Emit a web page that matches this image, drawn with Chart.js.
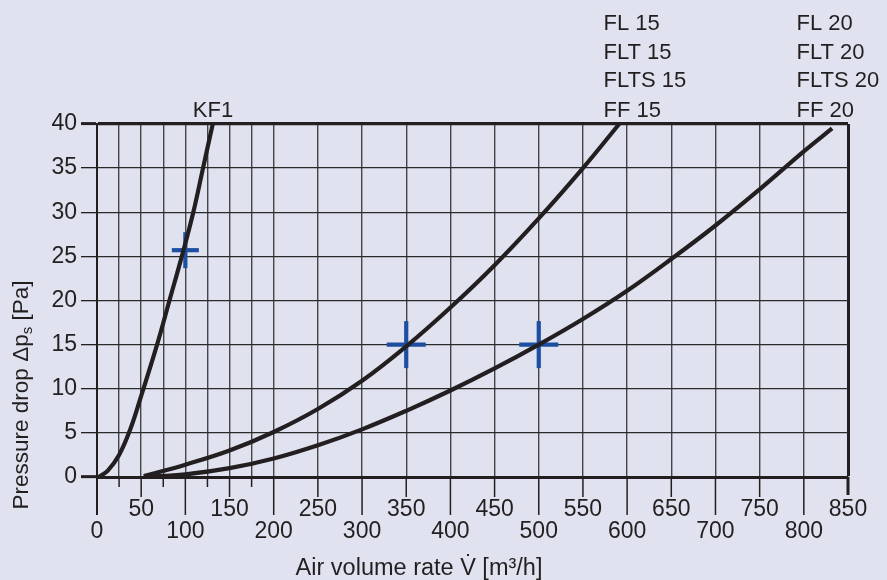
<!DOCTYPE html>
<html><head><meta charset="utf-8">
<script src="https://cdn.jsdelivr.net/npm/chart.js@4.4.1/dist/chart.umd.min.js"></script>
<style>html,body{margin:0;padding:0;background:#e0e2f0;overflow:hidden}#wrap{width:887px;height:580px}</style>
</head><body><div id="wrap"><canvas id="c" width="887" height="580"></canvas></div>
<script>
// ---- data ----
const kf1Flow  = [2, 12, 25, 38, 50, 68, 82, 96, 109, 120, 131];
const kf1Drop  = [0, 0.7, 2.5, 5.5, 9.2, 15, 20, 25, 30, 35, 40];
const fl15Flow = [53, 100, 150, 200, 250, 300, 350, 400, 450, 500, 550, 591];
const fl15Drop = [0.1, 1.4, 3.0, 5.1, 7.7, 10.9, 14.8, 19.2, 24.0, 29.3, 35.0, 40];
const fl20Flow = [53, 100, 150, 200, 250, 300, 350, 400, 450, 500, 550, 600, 650, 700, 750, 800, 832];
const fl20Drop = [0, 0.3, 1.0, 2.1, 3.6, 5.4, 7.5, 9.8, 12.3, 15.0, 17.9, 21.1, 24.7, 28.5, 32.6, 36.9, 39.5];
const markFlow = [100, 350, 500];
const markDrop = [25.7, 15, 15];
const xTickValues = [0, 25, 50, 75, 100, 125, 150, 175, 200, 250, 300, 350, 400, 450, 500, 550, 600, 650, 700, 750, 800, 850];
const xLabelValues = [0, 50, 100, 150, 200, 250, 300, 350, 400, 450, 500, 550, 600, 650, 700, 750, 800, 850];
const yTickValues = [0, 5, 10, 15, 20, 25, 30, 35, 40];
const kf1Label = 'KF1';
const fl15Labels = ['FL 15', 'FLT 15', 'FLTS 15', 'FF 15'];
const fl20Labels = ['FL 20', 'FLT 20', 'FLTS 20', 'FF 20'];
const xTitle = 'Air volume rate V\u0307 [m\u00b3/h]';
const yTitleParts = ['Pressure drop \u0394p', 's', ' [Pa]'];

// ---- styles ----
const INK = '#231f20';
const BLUE = '#1c4ea1';
const BG = '#e0e2f0';
const FONT = '"Liberation Sans", Arial, Helvetica, sans-serif';
const markHalfW = [13.5, 19.5, 19.5];
const markHalfH = [18, 23.5, 23.5];

const toXY = (xs, ys) => xs.map((v, i) => ({x: v, y: ys[i]}));

const curve = (data) => ({
  type: 'line', data, borderColor: INK, borderWidth: 4.2, pointRadius: 0,
  tension: 0.4, fill: false, clip: false, borderCapStyle: 'butt'
});

const decor = {
  id: 'decor',
  beforeDraw(chart) {
    const c = chart.ctx;
    c.save(); c.fillStyle = BG; c.fillRect(0, 0, chart.width, chart.height); c.restore();
  },
  afterDraw(chart) {
    const c = chart.ctx, x = chart.scales.x, y = chart.scales.y;
    const base = y.getPixelForValue(0);
    c.save();
    c.strokeStyle = INK;
    // tick extensions below the x axis
    xTickValues.forEach(v => {
      const px = x.getPixelForValue(v);
      let len = 10, w = 1.5;
      if (v === 0) { len = 38; w = 2; }
      else if (v === 850) { len = 18; w = 3; }
      else if (v % 100 === 0) { len = 38; }
      else if (v % 50 === 0) { len = 20; }
      c.lineWidth = w;
      c.beginPath(); c.moveTo(px, base); c.lineTo(px, base + len); c.stroke();
    });
    // texts
    c.fillStyle = INK;
    c.textBaseline = 'alphabetic';
    c.font = '22px ' + FONT;
    c.textAlign = 'center';
    c.fillText(kf1Label, 213, 117);
    c.textAlign = 'left';
    const bl = [30, 58.5, 87.3, 116.5];
    fl15Labels.forEach((t, i) => c.fillText(t, 603.5, bl[i]));
    fl20Labels.forEach((t, i) => c.fillText(t, 796.5, bl[i]));
    // x title
    c.font = '23.5px ' + FONT;
    c.textAlign = 'center';
    c.fillText(xTitle, 419, 575);
    // y title (rotated, with subscript)
    const big = '22.5px ' + FONT, small = '15px ' + FONT;
    c.font = big; const w0 = c.measureText(yTitleParts[0]).width; const w2 = c.measureText(yTitleParts[2]).width;
    c.font = small; const w1 = c.measureText(yTitleParts[1]).width;
    const tot = w0 + w1 + w2;
    c.translate(28, 395); c.rotate(-Math.PI / 2);
    c.textAlign = 'left';
    let sx = -tot / 2;
    c.font = big; c.fillText(yTitleParts[0], sx, 0); sx += w0;
    c.font = small; c.fillText(yTitleParts[1], sx, 4); sx += w1;
    c.font = big; c.fillText(yTitleParts[2], sx, 0);
    c.restore();
  }
};

new Chart(document.getElementById('c'), {
  data: {
    datasets: [
      curve(toXY(kf1Flow, kf1Drop)),
      curve(toXY(fl15Flow, fl15Drop)),
      curve(toXY(fl20Flow, fl20Drop)),
      { type: 'scatter', data: toXY(markFlow, markDrop), pointStyle: 'line',
        pointRadius: markHalfW, pointBorderWidth: 4.2, pointBorderColor: BLUE, pointBackgroundColor: BLUE, clip: false },
      { type: 'scatter', data: toXY(markFlow, markDrop), pointStyle: 'line', rotation: 90,
        pointRadius: markHalfH, pointBorderWidth: 4.2, pointBorderColor: BLUE, pointBackgroundColor: BLUE, clip: false }
    ]
  },
  options: {
    responsive: false, animation: false, devicePixelRatio: 1,
    layout: { padding: { top: 124, right: 39, left: 0, bottom: 0 } },
    plugins: { legend: { display: false }, tooltip: { enabled: false } },
    elements: { point: { hoverRadius: 0 } },
    scales: {
      x: {
        type: 'linear', min: 0, max: 850,
        afterBuildTicks: s => { s.ticks = xTickValues.map(v => ({ value: v })); },
        afterFit: s => { s.height = 103; s.paddingLeft = 0; s.paddingRight = 0; },
        ticks: {
          autoSkip: false, maxRotation: 0, minRotation: 0, padding: 22, color: INK,
          font: { family: FONT, size: 23, lineHeight: 0.935 },
          callback: v => xLabelValues.includes(v) ? (v % 100 === 0 ? ['', String(v)] : String(v)) : ''
        },
        grid: {
          drawTicks: false,
          color: ctx => ctx.tick && ctx.tick.value === 850 ? INK : '#454545',
          lineWidth: ctx => ctx.tick && ctx.tick.value === 850 ? 3 : 1.4
        },
        border: { color: INK, width: 3 }
      },
      y: {
        type: 'linear', min: 0, max: 40,
        afterBuildTicks: s => { s.ticks = yTickValues.map(v => ({ value: v })); },
        afterFit: s => { s.width = 97; },
        ticks: { padding: 4, color: INK, font: { family: FONT, size: 23 } },
        grid: {
          tickLength: 16,
          color: ctx => ctx.tick && ctx.tick.value === 40 ? INK : '#2a2a2a',
          lineWidth: ctx => ctx.tick && ctx.tick.value === 40 ? 3.2 : 1.3,
          tickColor: INK,
          tickWidth: ctx => ctx.tick && (ctx.tick.value === 40 || ctx.tick.value === 0) ? 3 : 1.3
        },
        border: { color: INK, width: 2 }
      }
    }
  },
  plugins: [decor]
});
</script></body></html>
